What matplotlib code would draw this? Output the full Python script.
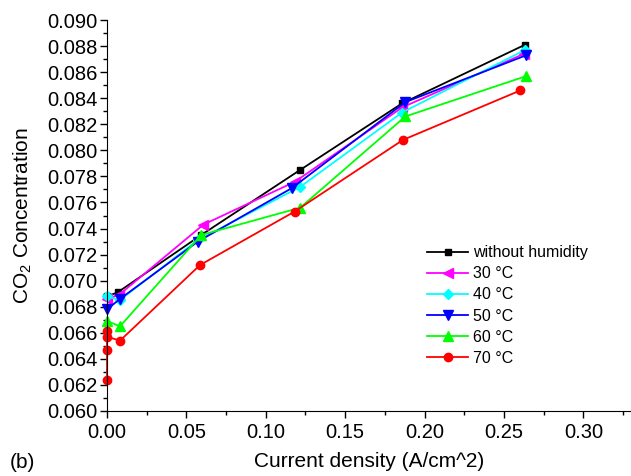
import numpy as np
import matplotlib.pyplot as plt
from matplotlib.ticker import MultipleLocator, FormatStrFormatter

plt.rcParams['font.family'] = ['Liberation Sans', 'DejaVu Sans']
plt.rcParams['mathtext.fontset'] = 'custom'
plt.rcParams['mathtext.rm'] = 'Liberation Sans'

# data
labels = ['without humidity', '30 °C', '40 °C', '50 °C', '60 °C', '70 °C']
x_dry = [0.0, 0.0067, 0.0593, 0.1217, 0.1858, 0.2632]
y_dry = [0.0688, 0.0691, 0.0735, 0.0785, 0.0836, 0.0881]
x_30 = [0.0, 0.0075, 0.0607, 0.1185, 0.1860, 0.2625]
y_30 = [0.0686, 0.0689, 0.0743, 0.0776, 0.0833, 0.0874]
x_40 = [0.0, 0.0080, 0.0570, 0.1217, 0.1858, 0.2632]
y_40 = [0.0688, 0.0685, 0.0731, 0.0772, 0.0829, 0.0877]
x_50 = [0.0, 0.0082, 0.0572, 0.1164, 0.1879, 0.2641]
y_50 = [0.0678, 0.0686, 0.0730, 0.0771, 0.0837, 0.0873]
x_60 = [0.0, 0.0082, 0.0593, 0.1217, 0.1879, 0.2641]
y_60 = [0.0669, 0.0665, 0.0735, 0.0756, 0.0826, 0.0857]
x_70 = [0.0, 0.0, 0.0, 0.0, 0.0082, 0.0586, 0.1181, 0.1864, 0.2604]
y_70 = [0.0624, 0.0647, 0.0661, 0.0657, 0.0654, 0.0712, 0.0753, 0.0808, 0.0846]

xs = [x_dry, x_30, x_40, x_50, x_60, x_70]
ys = [y_dry, y_30, y_40, y_50, y_60, y_70]
colors = ['black', '#ff00ff', '#00ffff', '#0000ff', '#00ff00', '#ff0000']
markers = ['s', '<', 'D', 'v', '^', 'o']
msizes = [5, 6.5, 5.5, 6.5, 6.5, 6]

fig = plt.figure(figsize=(6.31, 4.76), dpi=100)
ax = fig.add_axes([107/631, 1-411/476, 1-107/631, 391/476])

for x, y, c, m, ms, lab in zip(xs, ys, colors, markers, msizes, labels):
    ax.plot(x, y, color=c, marker=m, markersize=ms, lw=1.3, label=lab, clip_on=False)

ax.set_xlim(0, 0.33)
ax.set_ylim(0.060, 0.090)
ax.spines['top'].set_visible(False)
ax.spines['right'].set_visible(False)
ax.xaxis.set_major_locator(MultipleLocator(0.05))
ax.xaxis.set_minor_locator(MultipleLocator(0.025))
ax.yaxis.set_major_locator(MultipleLocator(0.002))
ax.yaxis.set_minor_locator(MultipleLocator(0.001))
ax.xaxis.set_major_formatter(FormatStrFormatter('%.2f'))
ax.yaxis.set_major_formatter(FormatStrFormatter('%.3f'))
ax.tick_params(which='major', direction='out', length=5, width=1, labelsize=14.5, pad=2)
ax.tick_params(axis='x', which='major', pad=4)
ax.tick_params(which='minor', direction='out', length=3, width=1)

ax.set_xlabel('Current density (A/cm^2)', fontsize=15, labelpad=7)
ax.set_ylabel('CO$_\\mathregular{2}$ Concentration', fontsize=15, labelpad=9)
fig.text(10/631, 1-462/476, '(b)', fontsize=15, va='center', ha='left')

ax.legend(loc='upper left', bbox_to_anchor=(0.598, 0.44), frameon=False,
          fontsize=11.5, handlelength=2.6, handletextpad=0.3, labelspacing=0.38,
          borderaxespad=0)

fig.savefig('out.png', dpi=100)
